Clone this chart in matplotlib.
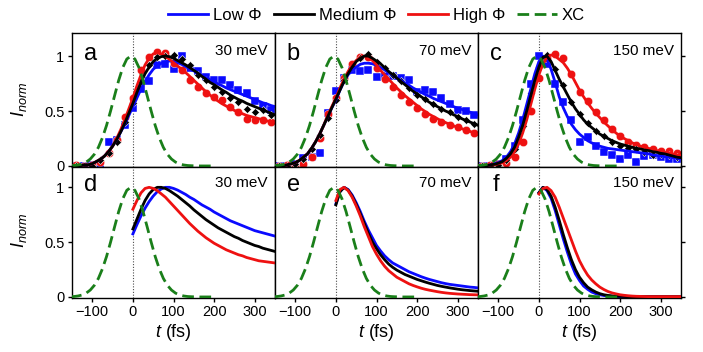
import matplotlib
matplotlib.use("Agg")
import matplotlib.pyplot as plt
from matplotlib.lines import Line2D

plt.rcParams['font.family'] = ['Liberation Sans', 'DejaVu Sans']
plt.rcParams['mathtext.fontset'] = 'custom'
plt.rcParams['mathtext.it'] = 'Liberation Sans:italic'
plt.rcParams['mathtext.rm'] = 'Liberation Sans'

# time grids (fs)
T_FIT = list(range(-150, 351, 10))
T_PTS = list(range(-140, 341, 20))
T_MODEL = list(range(0, 351, 10))
T_XC = list(range(-155, 196, 10))

# cross-correlation (same in every panel)
XC = [0.002, 0.004, 0.009, 0.018, 0.035, 0.063, 0.106, 0.169, 0.257, 0.368,
      0.5, 0.641, 0.779, 0.895, 0.973, 1.0, 0.973, 0.895, 0.779, 0.641,
      0.5, 0.368, 0.257, 0.169, 0.106, 0.063, 0.035, 0.018, 0.009, 0.004,
      0.002, 0.001, 0, 0, 0, 0]

ENERGIES = ['30 meV', '70 meV', '150 meV']
LETTERS_TOP = ['a', 'b', 'c']
LETTERS_BOT = ['d', 'e', 'f']

# ---- top row: measured points and fits ----
A_BLUE_FIT = [0, 0, 0, .01, .01, .02, .04, .06, .09, .13, .18, .24, .31, .38, .46,
              .54, .62, .70, .77, .83, .88, .91, .935, .95, .955,
              .95, .94, .925, .905, .885, .865, .845, .825, .805, .785,
              .765, .745, .73, .71, .695, .68, .665, .65, .635, .62,
              .605, .59, .575, .565, .55, .54]
A_BLACK_FIT = [0, 0, 0, .01, .01, .02, .04, .06, .09, .13, .18, .24, .31, .39, .48,
               .57, .67, .76, .84, .90, .95, .98, .995, 1.0, .995,
               .98, .96, .94, .92, .895, .87, .845, .815, .79, .76,
               .74, .715, .69, .67, .645, .625, .605, .59, .57, .555,
               .54, .525, .51, .495, .48, .465]
A_RED_FIT = [0, 0, 0, .01, .01, .02, .04, .06, .09, .13, .18, .25, .33, .42, .52,
             .62, .73, .83, .92, .98, 1.02, 1.03, 1.02, 1.0, .97,
             .94, .91, .88, .85, .815, .78, .745, .71, .675, .645,
             .615, .59, .565, .545, .525, .505, .49, .475, .46, .45,
             .44, .43, .42, .41, .405, .40]
A_BLUE_PTS = [0, 0, .01, 0, .22, .24, .37, .53, .70, .77, .92, .93, .88, 1.0,
              .89, .86, .81, .78, .78, .74, .69, .66, .59, .55, .51]
A_BLACK_PTS = [0, 0, 0, .05, .12, .22, .40, .57, .77, .92, .99, 1.0, 1.01, .97,
               .92, .83, .78, .72, .67, .62, .58, .52, .49, .51, .46]
A_RED_PTS = [.01, 0, .01, .04, .12, .24, .45, .62, .87, .99, 1.04, 1.03, .94, .87,
             .78, .72, .66, .63, .60, .54, .49, .43, .42, .42, .40]

B_BLUE_FIT = [0, 0, 0, .01, .02, .03, .05, .08, .11, .16, .22, .29, .37, .45, .53,
              .60, .69, .77, .83, .87, .90, .925, .935, .935, .93,
              .915, .895, .875, .85, .825, .80, .78, .755, .735, .71,
              .69, .67, .65, .635, .615, .60, .585, .57, .555, .54,
              .525, .515, .50, .49, .475, .465]
B_BLACK_FIT = [0, 0, 0, .01, .02, .03, .05, .08, .11, .16, .22, .29, .37, .45, .53,
               .61, .69, .77, .84, .90, .95, .98, 1.0, 1.0, .98,
               .955, .93, .895, .86, .83, .80, .77, .74, .71, .68,
               .655, .63, .605, .58, .56, .54, .52, .50, .485, .465,
               .45, .43, .415, .40, .385, .37]
B_RED_FIT = [0, 0, 0, .01, .02, .03, .05, .08, .11, .16, .22, .29, .37, .46, .54,
             .62, .71, .79, .86, .92, .96, .99, 1.0, .99, .96,
             .92, .87, .83, .79, .75, .71, .675, .64, .61, .58,
             .55, .52, .495, .47, .45, .43, .41, .395, .38, .365,
             .35, .34, .325, .315, .30, .29]
B_BLUE_PTS = [0, 0, .02, .07, .08, .115, .48, .68, .80, .87, .86, .87, .81, .82,
              .82, .80, .78, .675, .69, .67, .62, .56, .51, .50, .46]
B_BLACK_PTS = [0, 0, .02, .06, .15, .28, .44, .60, .78, .90, .98, 1.02, .95, .89,
               .83, .77, .71, .65, .61, .56, .52, .49, .45, .42, .38]
B_RED_PTS = [0, .01, 0, .02, .08, .25, .47, .62, .80, .93, .99, .99, .89, .79,
             .72, .65, .58, .53, .47, .43, .40, .37, .35, .33, .30]

C_BLUE_FIT = [0, 0, 0, .01, .02, .03, .05, .08, .13, .20, .30, .42, .56, .70, .84,
              .95, 1.0, .97, .88, .76, .63, .53, .45, .38, .33,
              .29, .26, .23, .21, .195, .18, .17, .16, .155, .15,
              .145, .14, .135, .13, .125, .12, .115, .11, .10, .095,
              .09, .085, .08, .075, .07, .065]
C_BLACK_FIT = [0, 0, 0, .01, .015, .025, .04, .07, .11, .17, .26, .37, .50, .64, .78,
               .90, .99, 1.0, .95, .87, .79, .72, .65, .58, .52,
               .47, .42, .38, .35, .32, .29, .27, .25, .23, .215,
               .20, .19, .18, .17, .16, .155, .145, .14, .13, .125,
               .115, .11, .10, .09, .08, .075]
C_RED_FIT = [0, 0, 0, .01, .01, .02, .03, .05, .08, .13, .20, .30, .42, .56, .70,
             .83, .93, .99, 1.01, 1.0, .97, .94, .89, .83, .76,
             .69, .63, .575, .525, .48, .44, .40, .365, .33, .30,
             .27, .25, .23, .21, .195, .18, .17, .16, .15, .14,
             .135, .125, .12, .11, .10, .095]
C_BLUE_PTS = [0, 0, .02, .06, .18, .42, .75, 1.0, .93, .75, .58, .42, .22, .26,
              .18, .13, .10, .06, .10, .04, .09, .10, .08, .06, .06]
C_BLACK_PTS = [0, 0, .01, .05, .15, .36, .66, .90, 1.01, .88, .74, .58, .47, .39,
               .32, .27, .22, .18, .16, .15, .13, .10, .11, .10, .08]
C_RED_PTS = [0, .01, .02, .03, .08, .22, .50, .80, .98, 1.02, .98, .84, .67, .59,
             .49, .42, .34, .27, .22, .19, .17, .15, .14, .135, .12]

# ---- bottom row: model curves ----
D_BLUE = [.575, .66, .74, .81, .87, .92, .96, .985, 1.0, 1.0,
          .99, .975, .955, .935, .91, .89, .865, .84, .82, .80,
          .775, .755, .735, .715, .695, .68, .665, .65, .635, .62,
          .605, .595, .585, .575, .565, .555]
D_BLACK = [.62, .71, .80, .88, .94, .98, 1.0, 1.0, .99, .97,
           .945, .92, .89, .86, .83, .795, .765, .735, .705, .68,
           .655, .63, .61, .59, .57, .55, .535, .515, .50, .485,
           .47, .46, .445, .435, .425, .415]
D_RED = [.80, .88, .95, .99, 1.0, .99, .97, .94, .91, .87,
         .83, .79, .75, .71, .67, .635, .60, .57, .54, .515,
         .49, .47, .45, .43, .415, .40, .385, .375, .36, .35,
         .34, .33, .325, .32, .315, .31]
E_BLUE = [.85, .96, 1.0, .98, .93, .86, .78, .69, .61, .54,
          .47, .42, .375, .34, .31, .29, .27, .25, .23, .215,
          .20, .185, .172, .16, .15, .14, .13, .122, .115, .11,
          .105, .10, .095, .09, .087, .083]
E_BLACK = [.84, .96, 1.0, .975, .92, .845, .76, .67, .58, .50,
           .44, .385, .34, .30, .27, .245, .225, .205, .19, .175,
           .16, .148, .136, .125, .115, .105, .097, .09, .083, .077,
           .071, .066, .062, .058, .055, .052]
E_RED = [.88, .98, 1.0, .97, .91, .83, .74, .64, .55, .46,
         .39, .33, .28, .24, .21, .18, .16, .14, .12, .105,
         .092, .08, .07, .062, .055, .048, .042, .037, .033, .03,
         .027, .025, .023, .021, .02, .019]
F_BLUE = [.95, 1.0, .97, .90, .79, .66, .53, .41, .30, .21,
          .15, .10, .07, .045, .03, .02, .013, .009, .006, .004,
          .003, .002, .002, .002, .002, .002, .002, .002, .002, .002,
          .002, .002, .002, .002, .002, .002]
F_BLACK = [.95, 1.0, .98, .92, .82, .70, .57, .45, .34, .25,
           .18, .13, .09, .065, .045, .03, .02, .014, .01, .007,
           .005, .004, .003, .003, .003, .003, .003, .003, .003, .003,
           .003, .003, .003, .003, .003, .003]
F_RED = [.94, .99, 1.0, .97, .91, .82, .72, .62, .52, .42,
         .33, .26, .20, .155, .12, .09, .068, .05, .037, .028,
         .02, .015, .011, .008, .006, .005, .004, .003, .003, .003,
         .003, .003, .003, .003, .003, .003]

TOP = [
    (A_BLUE_FIT, A_BLACK_FIT, A_RED_FIT, A_BLUE_PTS, A_BLACK_PTS, A_RED_PTS),
    (B_BLUE_FIT, B_BLACK_FIT, B_RED_FIT, B_BLUE_PTS, B_BLACK_PTS, B_RED_PTS),
    (C_BLUE_FIT, C_BLACK_FIT, C_RED_FIT, C_BLUE_PTS, C_BLACK_PTS, C_RED_PTS),
]
BOTTOM = [(D_BLUE, D_BLACK, D_RED), (E_BLUE, E_BLACK, E_RED), (F_BLUE, F_BLACK, F_RED)]

BLUE = '#0a0aff'
BLACK = 'black'
RED = '#ee1111'
GREEN = '#1a7f1a'
LW = 2.0
DASH = (0, (4.2, 2.0))

fig = plt.figure(figsize=(7.03, 3.52), dpi=100)

lefts = [72 / 703, 275 / 703, 478 / 703]
width = 203 / 703
rows = [((352 - 166.5) / 352, 133.5 / 352, (-0.005, 1.21)),
        ((352 - 297.5) / 352, 131 / 352, (-0.005, 1.19))]


def style_axes(ax, col, row):
    ax.set_xlim(-150, 350)
    ax.set_ylim(*rows[row][2])
    for sp in ax.spines.values():
        sp.set_linewidth(1.0)
    ax.tick_params(direction='out', length=3, width=1, labelsize=10.5, pad=2.5)
    if row == 0:
        ax.tick_params(bottom=False, labelbottom=False)
    else:
        ax.set_xticks([-100, 0, 100, 200, 300])
        ax.set_xlabel(r'$t$ (fs)', fontsize=13, labelpad=2)
    ax.set_yticks([0, 0.5, 1])
    if col == 0:
        ax.set_yticklabels(['0', '0.5', '1'])
    elif col == 1:
        ax.tick_params(left=False, labelleft=False)
    else:
        ax.tick_params(left=False, labelleft=False, right=True, labelright=False)
    ax.axvline(0, color='0.3', lw=0.8, ls=(0, (1, 1.5)), zorder=0)


for col in range(3):
    # top row
    bottom, height, _ = rows[0]
    ax = fig.add_axes([lefts[col], bottom, width, height])
    style_axes(ax, col, 0)
    bfit, kfit, rfit, bpts, kpts, rpts = TOP[col]
    ax.plot(T_PTS, bpts, 's', color=BLUE, ms=5.5, mec='white', mew=0.3, zorder=2)
    ax.plot(T_PTS, rpts, 'o', color=RED, ms=6, mec='white', mew=0.3, zorder=2)
    ax.plot(T_PTS, kpts, 'D', color=BLACK, ms=4.5, mec='white', mew=0.4, zorder=2)
    ax.plot(T_FIT, bfit, color=BLUE, lw=LW, zorder=3)
    ax.plot(T_FIT, rfit, color=RED, lw=LW, zorder=3)
    ax.plot(T_FIT, kfit, color=BLACK, lw=LW, zorder=3)
    ax.plot(T_XC, XC, color=GREEN, lw=LW, ls=DASH, zorder=4)
    ax.text(0.09, 0.84, LETTERS_TOP[col], transform=ax.transAxes, fontsize=17,
            ha='center', va='center')
    ax.text(0.965, 0.865, ENERGIES[col], transform=ax.transAxes, fontsize=11,
            ha='right', va='center')

    # bottom row
    bottom, height, _ = rows[1]
    ax = fig.add_axes([lefts[col], bottom, width, height])
    style_axes(ax, col, 1)
    b, k, r = BOTTOM[col]
    ax.plot(T_XC, XC, color=GREEN, lw=LW, ls=DASH, zorder=4)
    ax.plot(T_MODEL, b, color=BLUE, lw=LW, zorder=3)
    ax.plot(T_MODEL, k, color=BLACK, lw=LW, zorder=3)
    ax.plot(T_MODEL, r, color=RED, lw=LW, zorder=3)
    ax.text(0.09, 0.86, LETTERS_BOT[col], transform=ax.transAxes, fontsize=17,
            ha='center', va='center')
    ax.text(0.965, 0.875, ENERGIES[col], transform=ax.transAxes, fontsize=11,
            ha='right', va='center')

# y labels
fig.text(19 / 703, 1 - 99 / 352, r'$I_{norm}$', rotation=90, fontsize=13,
         ha='center', va='center')
fig.text(19 / 703, 1 - 230 / 352, r'$I_{norm}$', rotation=90, fontsize=13,
         ha='center', va='center')

handles = [Line2D([], [], color=BLUE, lw=LW),
           Line2D([], [], color=BLACK, lw=LW),
           Line2D([], [], color=RED, lw=LW),
           Line2D([], [], color=GREEN, lw=LW, ls=DASH)]
labels = ['Low Φ', 'Medium Φ', 'High Φ', 'XC']
fig.legend(handles, labels, loc='center', bbox_to_anchor=(0.536, 0.957), ncol=4,
           frameon=False, fontsize=12, handlelength=2.4, handletextpad=0.3,
           columnspacing=0.7, borderpad=0)

fig.savefig('out.png', dpi=100)
